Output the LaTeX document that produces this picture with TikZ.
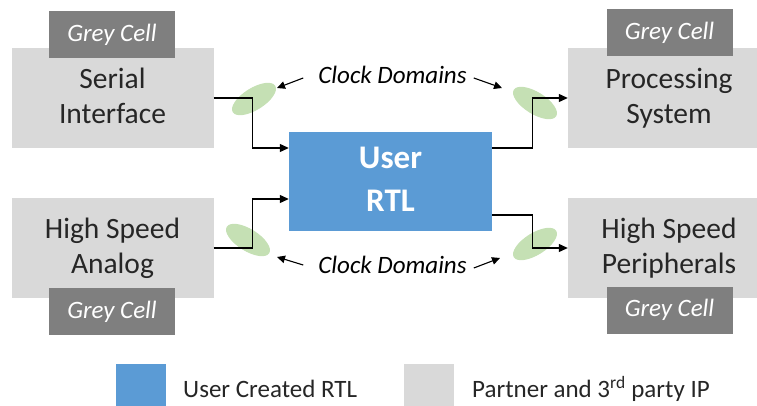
\documentclass[tikz,border=0pt]{standalone}
\usepackage{fontspec}
\setmainfont{Carlito}
\usetikzlibrary{arrows.meta,shapes.geometric}
\definecolor{ipgrey}{RGB}{217,217,217}
\definecolor{cellgrey}{RGB}{127,127,127}
\definecolor{rtlblue}{RGB}{91,155,213}
\definecolor{cdgreen}{RGB}{197,224,180}
\definecolor{txt}{RGB}{38,38,38}
\newcommand{\lph}{\vphantom{Ahgy}}
\tikzset{
  ipbox/.style={fill=ipgrey, minimum width=202pt, minimum height=100pt, inner sep=0pt, align=center, text=txt, font=\fontsize{29.5}{35}\selectfont},
  cell/.style={fill=cellgrey, minimum width=126pt, minimum height=47pt, inner sep=0pt, text=white, font=\fontsize{25}{30}\selectfont\itshape},
  rtlbox/.style={fill=rtlblue, minimum width=203pt, minimum height=99pt, inner sep=0pt, align=center, text=white, font=\fontsize{33}{43}\selectfont\bfseries},
  ell/.style={ellipse, fill=cdgreen, minimum width=50pt, minimum height=22pt, inner sep=0pt},
  conn/.style={line width=1.2pt, draw=black, -{Triangle[length=9pt,width=8pt]}},
  cdtext/.style={inner sep=0pt, text=black, font=\fontsize{25}{30}\selectfont\itshape},
  cdarrow/.style={line width=1.1pt, draw=black, -{Triangle[length=8pt,width=7.5pt]}},
  legsq/.style={minimum width=50pt, minimum height=42pt, inner sep=0pt},
  legtext/.style={anchor=west, inner sep=0pt, text=txt, font=\fontsize{25}{30}\selectfont}
}
\begin{document}
\begin{tikzpicture}[x=1pt, y=-1pt]
\useasboundingbox (0,0) rectangle (757,406);
% IP boxes
\node[ipbox] (serial) at (112.5,98) {\lph Serial\\\lph Interface};
\node[ipbox] (proc) at (669,98) {\lph Processing\\\lph System};
\node[ipbox] (analog) at (112.5,248) {\lph High Speed\\\lph Analog};
\node[ipbox] (periph) at (669,248) {\lph High Speed\\\lph Peripherals};
% grey cells
\node[cell] (cell1) at (112,34.5) {Grey Cell};
\node[cell] (cell2) at (669.5,33) {Grey Cell};
\node[cell] (cell3) at (112,311.5) {Grey Cell};
\node[cell] (cell4) at (669.5,310) {Grey Cell};
% user RTL
\node[rtlbox] (rtl) at (390.5,181.5) {\lph User\\\lph RTL};
% clock-domain ellipses
\node[ell, rotate=32] (e1) at (254,99) {};
\node[ell, rotate=-32] (e2) at (535,103) {};
\node[ell, rotate=-32] (e3) at (248,240) {};
\node[ell, rotate=32] (e4) at (535,244) {};
% connectors
\draw[conn] (serial.east) -- ++(39,0) |- ([yshift=33.5pt]rtl.west);
\draw[conn] (analog.east) -- ++(39,0) |- ([yshift=-17.5pt]rtl.west);
\draw[conn] ([yshift=33.5pt]rtl.east) -- ++(40,0) |- (proc.west);
\draw[conn] ([yshift=-33.5pt]rtl.east) -- ++(40,0) |- (periph.west);
% clock domain labels
\node[cdtext] (cd1) at (392.5,75) {Clock Domains};
\node[cdtext] (cd2) at (392.5,265) {Clock Domains};
\coordinate (t1) at (277,88);
\coordinate (t2) at (502,88);
\coordinate (t3) at (277,257);
\coordinate (t4) at (500,258);
\draw[cdarrow] ([xshift=-15pt,yshift=-3pt]cd1.west) -- (t1);
\draw[cdarrow] ([xshift=7pt,yshift=-3pt]cd1.east) -- (t2);
\draw[cdarrow] ([xshift=-15pt]cd2.west) -- (t3);
\draw[cdarrow] ([xshift=7pt,yshift=-3pt]cd2.east) -- (t4);
% legend
\node[legsq, fill=rtlblue] (leg1) at (141,385) {};
\node[legtext] (legt1) at (183,389) {User Created RTL};
\node[legsq, fill=ipgrey] (leg2) at (429,385) {};
\node[legtext] (legt2) at (472,389) {Partner and 3\textsuperscript{rd} party IP};
\end{tikzpicture}
\end{document}
